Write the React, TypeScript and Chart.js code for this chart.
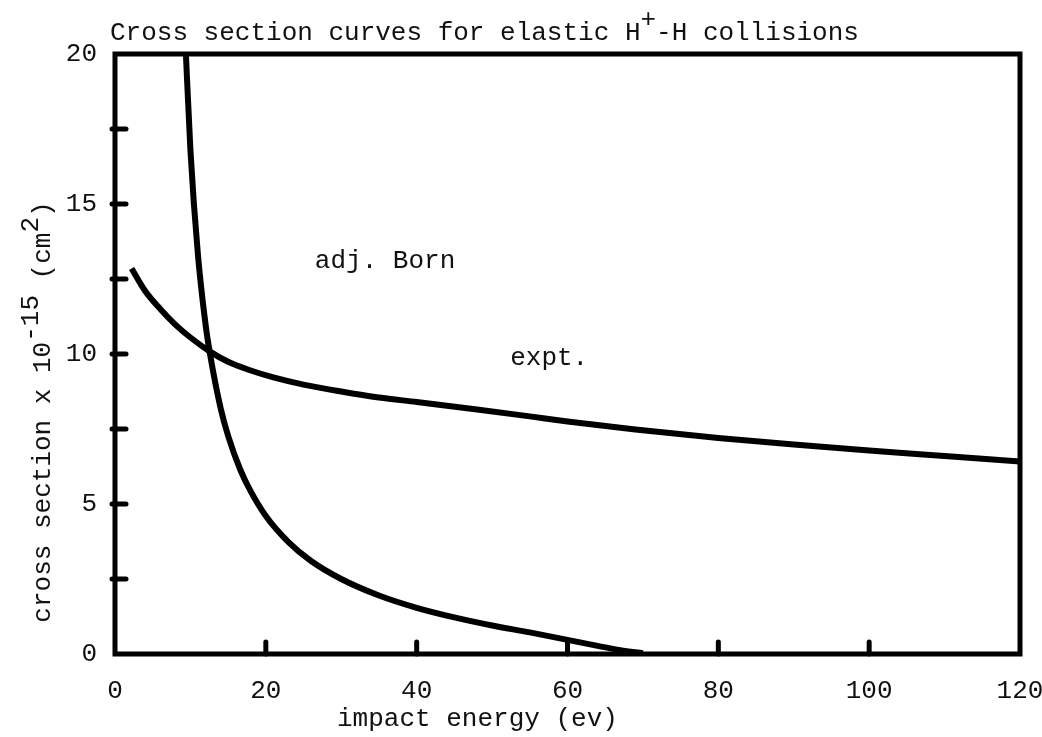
import React, { useEffect, useRef } from 'react';
import { Chart, registerables } from 'chart.js';

Chart.register(...registerables);

// ---- data ----
const bornEnergy = [9.4, 10, 11, 12, 12.6, 14, 15, 16.6, 18, 20, 23, 26, 30, 35, 40, 45, 50, 55, 60, 64, 67, 70];
const bornCross = [20.0, 16.8, 13.3, 11.0, 10.0, 8.2, 7.27, 6.15, 5.42, 4.6, 3.73, 3.1, 2.5, 1.95, 1.54, 1.22, 0.95, 0.72, 0.47, 0.27, 0.13, 0.03];

const exptEnergy = [2.2, 4, 6, 8, 10, 12.6, 15, 18, 21, 25, 30, 35, 40, 48, 55, 60, 69, 80, 90, 100, 110, 120];
const exptCross = [12.85, 12.1, 11.5, 10.98, 10.55, 10.08, 9.74, 9.45, 9.22, 8.98, 8.75, 8.55, 8.4, 8.15, 7.92, 7.75, 7.48, 7.2, 6.98, 6.78, 6.6, 6.42];

const xMin = 0;
const xMax = 120;
const xStep = 20;
const yMin = 0;
const yMax = 20;
const yStep = 2.5;
const yLabelEvery = 5;
const xInnerTicks = [20, 40, 60, 80, 100];
const yInnerTicks = [2.5, 5, 7.5, 10, 12.5, 15, 17.5];

const titleParts = ['Cross section curves for elastic H', '+', '-H collisions'];
const xTitle = 'impact energy (ev)';
const yTitleParts = ['cross section x 10', '-15', ' (cm', '2', ')'];
const curveLabels = [
  { text: 'adj. Born', x: 26.5, y: 13.1 },
  { text: 'expt.', x: 52.4, y: 9.87 },
];

const FONT = '"Liberation Mono", "DejaVu Sans Mono", monospace';
const FONT_SIZE = 26;

const decorPlugin = {
  id: 'decor',
  afterDatasetsDraw(chart: any) {
    const { ctx, chartArea: a, scales } = chart;
    ctx.save();
    ctx.strokeStyle = '#000';
    ctx.lineWidth = 5;
    ctx.lineJoin = 'miter';
    ctx.lineCap = 'butt';
    ctx.strokeRect(a.left, a.top, a.right - a.left, a.bottom - a.top);
    ctx.lineCap = 'round';
    for (const v of yInnerTicks) {
      const py = scales.y.getPixelForValue(v);
      ctx.beginPath();
      ctx.moveTo(a.left - 3, py);
      ctx.lineTo(a.left + 11, py);
      ctx.stroke();
    }
    for (const v of xInnerTicks) {
      const px = scales.x.getPixelForValue(v);
      ctx.beginPath();
      ctx.moveTo(px, a.bottom);
      ctx.lineTo(px, a.bottom - 12);
      ctx.stroke();
    }

    ctx.fillStyle = '#111';
    ctx.font = `${FONT_SIZE}px ${FONT}`;
    ctx.textBaseline = 'alphabetic';
    ctx.textAlign = 'left';

    // title
    let tx = 110;
    const tBase = 40;
    titleParts.forEach((p, i) => {
      const dy = i === 1 ? -13 : 0;
      ctx.fillText(p, tx, tBase + dy);
      tx += ctx.measureText(p).width;
    });

    // curve labels
    ctx.textBaseline = 'middle';
    for (const l of curveLabels) {
      ctx.fillText(l.text, scales.x.getPixelForValue(l.x), scales.y.getPixelForValue(l.y));
    }

    // x title
    ctx.textBaseline = 'alphabetic';
    ctx.textAlign = 'left';
    ctx.fillText(xTitle, 337, 726);

    // y title (rotated, with superscripts)
    const total = yTitleParts.reduce((s, p) => s + ctx.measureText(p).width, 0);
    ctx.translate(50, 412);
    ctx.rotate(-Math.PI / 2);
    let yx = -total / 2;
    yTitleParts.forEach((p, i) => {
      const dy = i === 1 || i === 3 ? -12 : 0;
      ctx.fillText(p, yx, dy);
      yx += ctx.measureText(p).width;
    });
    ctx.restore();
  },
};

export default function App() {
  const ref = useRef<HTMLCanvasElement | null>(null);

  useEffect(() => {
    if (!ref.current) return;
    const chart = new Chart(ref.current, {
      type: 'line',
      data: {
        datasets: [
          {
            label: 'adj. Born',
            data: bornEnergy.map((x, i) => ({ x, y: bornCross[i] })),
            borderColor: '#000',
            borderWidth: 6,
            pointRadius: 0,
            cubicInterpolationMode: 'monotone',
            fill: false,
          },
          {
            label: 'expt.',
            data: exptEnergy.map((x, i) => ({ x, y: exptCross[i] })),
            borderColor: '#000',
            borderWidth: 6,
            pointRadius: 0,
            cubicInterpolationMode: 'monotone',
            fill: false,
          },
        ],
      },
      options: {
        responsive: false,
        animation: false,
        events: [],
        layout: { padding: { left: 0, top: 54, right: 22, bottom: 0 } },
        plugins: {
          legend: { display: false },
          title: { display: false },
          tooltip: { enabled: false },
        },
        scales: {
          x: {
            type: 'linear',
            min: xMin,
            max: xMax,
            grid: { display: false, drawTicks: false },
            border: { display: false },
            ticks: {
              stepSize: xStep,
              color: '#111',
              font: { family: FONT, size: FONT_SIZE },
              padding: 22,
              maxRotation: 0,
            },
            afterFit: (s: any) => {
              s.height = 83;
              s.paddingLeft = 0;
              s.paddingRight = 0;
            },
          },
          y: {
            type: 'linear',
            min: yMin,
            max: yMax,
            grid: { display: false, drawTicks: false },
            border: { display: false },
            ticks: {
              stepSize: yStep,
              color: '#111',
              font: { family: FONT, size: FONT_SIZE },
              padding: 18,
              callback: (v: any) => (Number(v) % yLabelEvery === 0 ? String(v) : ''),
            },
            afterFit: (s: any) => {
              s.width = 115;
              s.paddingTop = 0;
              s.paddingBottom = 0;
            },
          },
        },
      },
      plugins: [decorPlugin],
    } as any);
    return () => chart.destroy();
  }, []);

  return (
    <div style={{ position: 'fixed', left: 0, top: 0, width: 1042, height: 737, background: '#fff' }}>
      <canvas ref={ref} width={1042} height={737} style={{ display: 'block' }} />
    </div>
  );
}
